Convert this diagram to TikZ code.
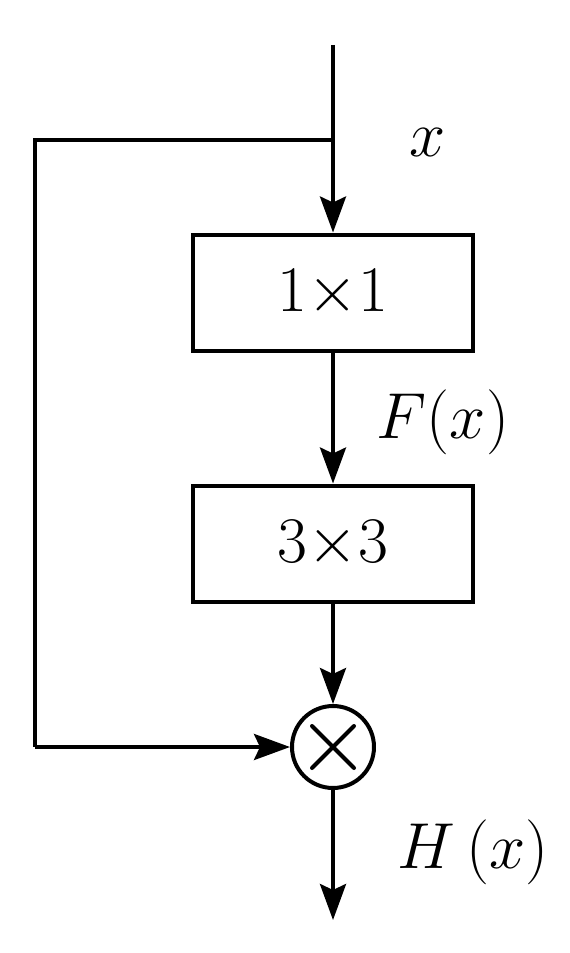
\RequirePackage{fix-cm}
\documentclass[tikz,border=0pt]{standalone}
\usetikzlibrary{arrows.meta}
\begin{document}
\begin{tikzpicture}[x=0.02cm,y=-0.02cm,
  line width=0.08cm,
  arr/.style={-{Stealth[length=0.72cm,width=0.52cm,inset=0.12cm]}},
  blk/.style={draw,rectangle,minimum width=5.6cm,minimum height=2.34cm,inner sep=0pt},
  lbl/.style={inner sep=0pt,font=\fontsize{37}{44}\selectfont}]
\useasboundingbox (0,0) rectangle (570,953);
\coordinate (top) at (333,45);
\coordinate (br) at (333,140);
\coordinate (lt) at (35,140);
\coordinate (lb) at (35,747);
\coordinate (end) at (333,920);
\node[blk,lbl] (b1) at (333,293) {$1{\times}1$};
\node[blk,lbl] (b2) at (333,544) {$3{\times}3$};
\node[draw,circle,minimum size=1.64cm,inner sep=0pt] (op) at (333,747) {};
\draw[line cap=round] ([shift={(-21,-21)}]op.center) -- ([shift={(21,21)}]op.center);
\draw[line cap=round] ([shift={(-21,21)}]op.center) -- ([shift={(21,-21)}]op.center);
\draw (top) -- (br);
\draw[arr] (br) -- (b1.north);
\draw (br) -- (lt) -- (lb);
\draw[arr] (lb) -- (op.west);
\draw[arr] (b1.south) -- (b2.north);
\draw[arr] (b2.south) -- (op.north);
\draw[arr] (op.south) -- (end);
\node[lbl] (lx) at (428,143) {$x$};
\node[lbl] (lf) at (443,422) {$F(x)$};
\node[lbl] (lh) at (473,852) {$H\,(x)$};
\end{tikzpicture}
\end{document}
